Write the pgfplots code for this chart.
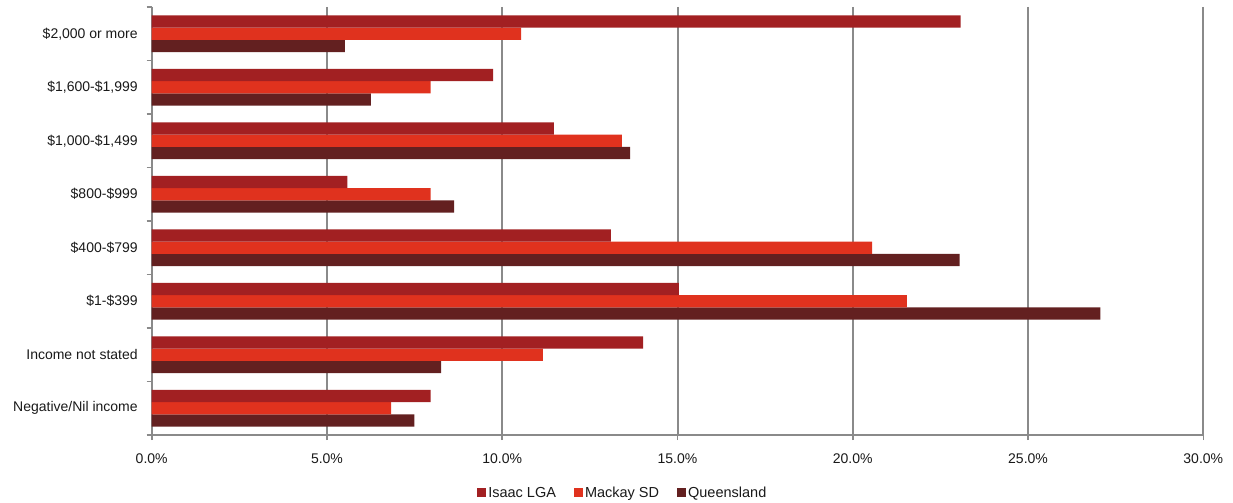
\documentclass[border=0pt]{standalone}
\usepackage{fontspec}
\setmainfont{Liberation Sans}
\usepackage{pgfplots}
\usepackage{pgfplotstable}
\pgfplotsset{compat=1.18}

\definecolor{isaac}{RGB}{162,32,34}
\definecolor{mackay}{RGB}{224,50,30}
\definecolor{qld}{RGB}{99,32,32}
\definecolor{axisgray}{RGB}{138,138,138}

% Weekly household income shares (%), rows from top to bottom
\pgfplotstableread{
pos isaac mackay qld
0 23.08 10.54 5.51
1 9.74 7.96 6.25
2 11.47 13.41 13.65
3 5.58 7.96 8.63
4 13.10 20.55 23.05
5 15.04 21.54 27.06
6 14.02 11.16 8.26
7 7.96 6.83 7.49
}\incometable

\begin{document}
\begin{tikzpicture}
\begin{axis}[
  name=ax,
  at={(0,0)}, anchor=south west,
  scale only axis,
  width=1051.6pt, height=428pt,
  xbar=0pt, bar width=12.3pt,
  y dir=reverse,
  xmin=0, xmax=30, ymin=-0.5, ymax=7.5,
  axis x line*=bottom, axis y line*=left,
  axis line style={axisgray, line width=2pt},
  tick align=outside,
  major tick length=5pt, minor tick length=5pt,
  xtick={0,5,...,30},
  xticklabels={0.0\%,5.0\%,10.0\%,15.0\%,20.0\%,25.0\%,30.0\%},
  ytick={0,...,7},
  yticklabels={{\$2,000 or more},{\$1,600-\$1,999},{\$1,000-\$1,499},{\$800-\$999},{\$400-\$799},{\$1-\$399},{Income not stated},{Negative/Nil income}},
  minor ytick={-0.5,0.5,...,7.5},
  every major y tick/.style={draw=none},
  every minor y tick/.style={axisgray, line width=1.6pt},
  every major x tick/.style={axisgray, line width=1.6pt},
  xmajorgrids,
  major grid style={axisgray, line width=2pt},
  tick label style={font=\fontsize{14}{16}\selectfont, text=black!90},
  yticklabel style={xshift=-5.5pt},
  xticklabel style={yshift=-10pt},
  legend style={at={(0.448,-0.1355)}, anchor=center, draw=none, fill=none,
    legend columns=3, font=\fontsize{14.5}{16}\selectfont, text=black!90,
    /tikz/every even column/.append style={column sep=16pt}},
  legend image code/.code={\fill[#1] (0pt,-4.5pt) rectangle (9pt,4.5pt);},
  legend cell align=left,
  reverse legend,
]
% drawn bottom-up within each group, so Isaac ends on top
\addplot[fill=qld, draw=none] table[x=qld, y=pos]{\incometable};
\addplot[fill=mackay, draw=none] table[x=mackay, y=pos]{\incometable};
\addplot[fill=isaac, draw=none] table[x=isaac, y=pos]{\incometable};
\legend{Queensland, Mackay SD, Isaac LGA}
\end{axis}
\path ([xshift=-151.7pt, yshift=-68pt]ax.south west) rectangle ([xshift=29.7pt, yshift=7pt]ax.north east);
\end{tikzpicture}
\end{document}
